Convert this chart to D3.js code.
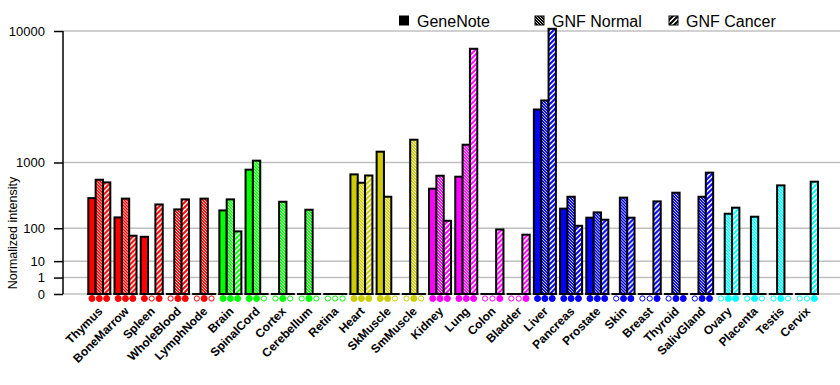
<!DOCTYPE html>
<html>
<head>
<meta charset="utf-8">
<script src="https://cdn.jsdelivr.net/npm/d3@7"></script>
<style>
  body { margin: 0; background: #fff; }
  svg { display: block; font-family: Arial, "Liberation Sans", sans-serif; }
</style>
</head>
<body>
<div id="chart"></div>
<script>
// tissues, left to right
const tissues = ["Thymus", "BoneMarrow", "Spleen", "WholeBlood", "LymphNode", "Brain", "SpinalCord",
  "Cortex", "Cerebellum", "Retina", "Heart", "SkMuscle", "SmMuscle", "Kidney", "Lung", "Colon",
  "Bladder", "Liver", "Pancreas", "Prostate", "Skin", "Breast", "Thyroid", "SalivGland", "Ovary",
  "Placenta", "Testis", "Cervix"];

// organ system of each tissue (decides the colour)
const systems = ["blood", "blood", "blood", "blood", "blood", "nerve", "nerve", "nerve", "nerve", "nerve",
  "muscle", "muscle", "muscle", "organ", "organ", "organ", "organ", "gland", "gland", "gland", "gland",
  "gland", "gland", "gland", "repro", "repro", "repro", "repro"];

const seriesNames = ["GeneNote", "GNF Normal", "GNF Cancer"];

// normalized intensity per tissue
const geneNote = [350, 166, 63, 0, 0, 222, 830, 0, 0, 0, 730, 1300, 0, 478, 684, 0, 0, 3080, 238, 164,
  0, 0, 0, 0, 0, 0, 0, 0];
const gnfNormal = [627, 344, 0, 231, 344, 335, 1047, 308, 228, 0, 574, 367, 1700, 703, 1524, 0, 0, 3610,
  367, 205, 356, 0, 420, 367, 194, 171, 530, 0];
const gnfCancer = [580, 67, 279, 335, 0, 85, 0, 0, 0, 0, 708, 0, 0, 143, 7925, 94, 71, 10280, 113, 150,
  164, 312, 0, 766, 247, 0, 0, 592];

// present calls (filled / open dots under the bars), one char per series
const calls = ["111", "111", "101", "011", "010", "111", "110", "010", "010", "000", "111", "110", "010",
  "111", "111", "001", "001", "111", "111", "111", "011", "001", "011", "011", "011", "010", "010", "001"];

const yTicks = [0, 1, 10, 100, 1000, 10000];

const W = 840, H = 385;
const base = 294;

const svg = d3.select("#chart").append("svg")
  .attr("width", W)
  .attr("height", H);

const color = d3.scaleOrdinal()
  .domain(["blood", "nerve", "muscle", "organ", "gland", "repro"])
  .range(["#ff0000", "#00ff00", "#cccc00", "#ff00ff", "#0000ff", "#00ffff"]);

// each decade doubles in height
const y = d3.scalePow()
  .exponent(Math.log10(2))
  .domain([0, 10000])
  .range([base, 31]);

const x = d3.scaleBand()
  .domain(tissues)
  .range([86.2, 820.1])
  .paddingInner(0.16)
  .paddingOuter(0.08);

const sub = d3.scaleBand()
  .domain([0, 1, 2])
  .range([0, x.bandwidth()]);

// hatch patterns
const defs = svg.append("defs");
function makePatterns(key, c) {
  const pn = defs.append("pattern")
    .attr("id", "norm-" + key)
    .attr("patternUnits", "userSpaceOnUse")
    .attr("width", 3).attr("height", 3);
  pn.append("rect").attr("width", 3).attr("height", 3).attr("fill", c);
  pn.append("path")
    .attr("d", "M0,0L3,3M-1,2L1,4M2,-1L4,1")
    .attr("stroke", "#fff").attr("stroke-width", 0.9);

  const pc = defs.append("pattern")
    .attr("id", "canc-" + key)
    .attr("patternUnits", "userSpaceOnUse")
    .attr("width", 5).attr("height", 5);
  pc.append("rect").attr("width", 5).attr("height", 5).attr("fill", "#fff");
  pc.append("path")
    .attr("d", "M0,5L5,0M-1,1L1,-1M4,6L6,4")
    .attr("stroke", c).attr("stroke-width", 2);
}
color.domain().forEach(k => makePatterns(k, color(k)));
makePatterns("legend", "#000");

function fillFor(sys, s) {
  if (s === 0) return color(sys);
  return s === 1 ? `url(#norm-${sys})` : `url(#canc-${sys})`;
}

// gridlines
svg.append("g")
  .selectAll("line")
  .data(yTicks)
  .join("line")
  .attr("x1", 63).attr("x2", W)
  .attr("y1", d => y(d)).attr("y2", d => y(d))
  .attr("stroke", "#c0c0c0")
  .attr("stroke-width", 1.5);

// y axis
const yAxis = svg.append("g")
  .attr("transform", "translate(63,0)")
  .call(d3.axisLeft(y).tickValues(yTicks).tickFormat(d3.format("d")).tickSize(9).tickPadding(9));
yAxis.select(".domain").attr("stroke", "#000").attr("stroke-width", 1.5).attr("d", `M0,${y(10000)}V${base}`);
yAxis.selectAll(".tick line").attr("stroke", "#000").attr("stroke-width", 1.5);
yAxis.selectAll(".tick text")
  .attr("font-size", 13)
  .attr("font-family", "Arial, 'Liberation Sans', sans-serif")
  .attr("fill", "#000");

svg.append("text")
  .attr("transform", `translate(17,233) rotate(-90)`)
  .attr("text-anchor", "middle")
  .attr("font-size", 12.5)
  .text("Normalized intensity");

// bar rows
const rows = tissues.map((t, i) => ({
  tissue: t,
  sys: systems[i],
  vals: [geneNote[i], gnfNormal[i], gnfCancer[i]],
  call: calls[i]
}));

const groups = svg.append("g")
  .selectAll("g")
  .data(rows)
  .join("g")
  .attr("transform", d => `translate(${x(d.tissue)},0)`);

// black base segment under every group
groups.append("line")
  .attr("x1", -1).attr("x2", x.bandwidth() + 1)
  .attr("y1", base).attr("y2", base)
  .attr("stroke", "#000")
  .attr("stroke-width", 2);

groups.selectAll("rect")
  .data(d => d.vals.map((v, s) => ({ v, s, sys: d.sys })).filter(e => e.v > 0))
  .join("rect")
  .attr("x", e => sub(e.s))
  .attr("width", sub.bandwidth())
  .attr("y", e => y(e.v))
  .attr("height", e => base - y(e.v))
  .attr("fill", e => fillFor(e.sys, e.s))
  .attr("stroke", "#000")
  .attr("stroke-width", 2);

// present / absent dots
groups.selectAll("circle")
  .data(d => d.call.split("").map((c, s) => ({ on: c === "1", s, sys: d.sys })))
  .join("circle")
  .attr("cx", e => sub(e.s) + sub.bandwidth() / 2)
  .attr("cy", 298.5)
  .attr("r", e => e.on ? 3 : 2.6)
  .attr("fill", e => e.on ? color(e.sys) : "#fff")
  .attr("stroke", e => color(e.sys))
  .attr("stroke-width", 1);

// tissue labels
svg.append("g")
  .selectAll("text")
  .data(tissues)
  .join("text")
  .attr("transform", d => `translate(${x(d) + x.bandwidth() / 2 + 4},312) rotate(-45)`)
  .attr("text-anchor", "end")
  .attr("font-size", 12)
  .attr("font-weight", "bold")
  .text(d => d);

// legend
const legX = [399.5, 535, 669];
const leg = svg.append("g")
  .selectAll("g")
  .data(seriesNames)
  .join("g")
  .attr("transform", (d, i) => `translate(${legX[i]},0)`);

leg.append("rect")
  .attr("x", 0).attr("y", 16)
  .attr("width", 9).attr("height", 9)
  .attr("fill", (d, i) => i === 0 ? "#000" : (i === 1 ? "url(#norm-legend)" : "url(#canc-legend)"))
  .attr("stroke", "#000")
  .attr("stroke-width", 1);

leg.append("text")
  .attr("x", (d, i) => i === 0 ? 17.5 : 17)
  .attr("y", 26.5)
  .attr("font-size", 16)
  .text(d => d);
</script>
</body>
</html>
